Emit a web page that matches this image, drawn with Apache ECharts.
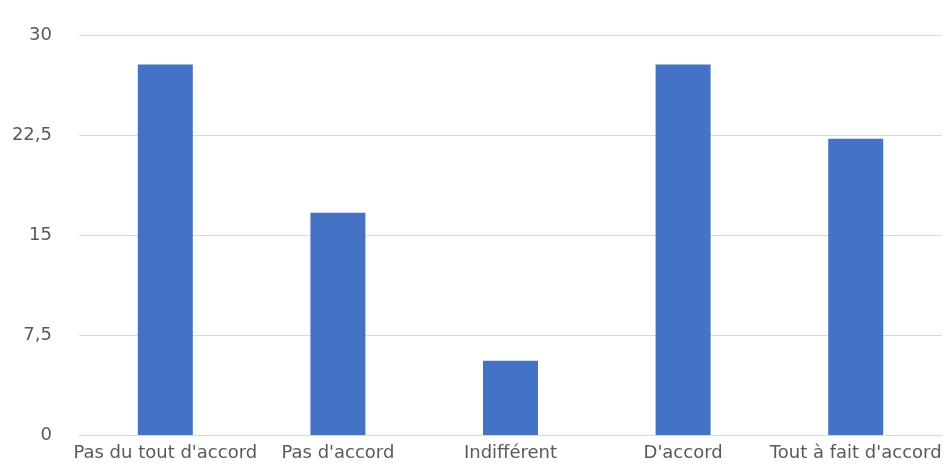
<!DOCTYPE html>
<html>
<head>
<meta charset="utf-8">
<script src="https://cdn.jsdelivr.net/npm/echarts@6/dist/echarts.min.js"></script>
<style>
  html, body { margin: 0; padding: 0; background: #ffffff; }
  #chart { width: 950px; height: 470px; }
</style>
</head>
<body>
<div id="chart"></div>
<script>
// Survey answers (share of respondents, %)
const categories = ["Pas du tout d'accord", "Pas d'accord", "Indifférent", "D'accord", "Tout à fait d'accord"];
const values = [27.78, 16.67, 5.56, 27.78, 22.22];
const yTicks = [0, 7.5, 15, 22.5, 30];

const chart = echarts.init(document.getElementById('chart'), null, { renderer: 'canvas' });

chart.setOption({
  animation: false,
  backgroundColor: '#ffffff',
  grid: { left: 79, right: 8, top: 35, bottom: 35, containLabel: false },
  xAxis: {
    type: 'category',
    data: categories,
    axisLine: { show: true, lineStyle: { color: '#d9d9d9', width: 1 } },
    axisTick: { show: false },
    axisLabel: {
      color: '#595959',
      fontFamily: 'DejaVu Sans',
      fontSize: 18,
      margin: 9,
      interval: 0
    }
  },
  yAxis: {
    type: 'value',
    min: yTicks[0],
    max: yTicks[yTicks.length - 1],
    interval: 7.5,
    axisLine: { show: false },
    axisTick: { show: false },
    splitLine: { lineStyle: { color: '#d9d9d9', width: 1 } },
    axisLabel: {
      color: '#595959',
      fontFamily: 'DejaVu Sans',
      fontSize: 18,
      margin: 27,
      formatter: v => String(v).replace('.', ',')
    }
  },
  series: [{
    type: 'bar',
    data: values,
    barWidth: 55,
    itemStyle: { color: '#4472C4' }
  }]
});
</script>
</body>
</html>
